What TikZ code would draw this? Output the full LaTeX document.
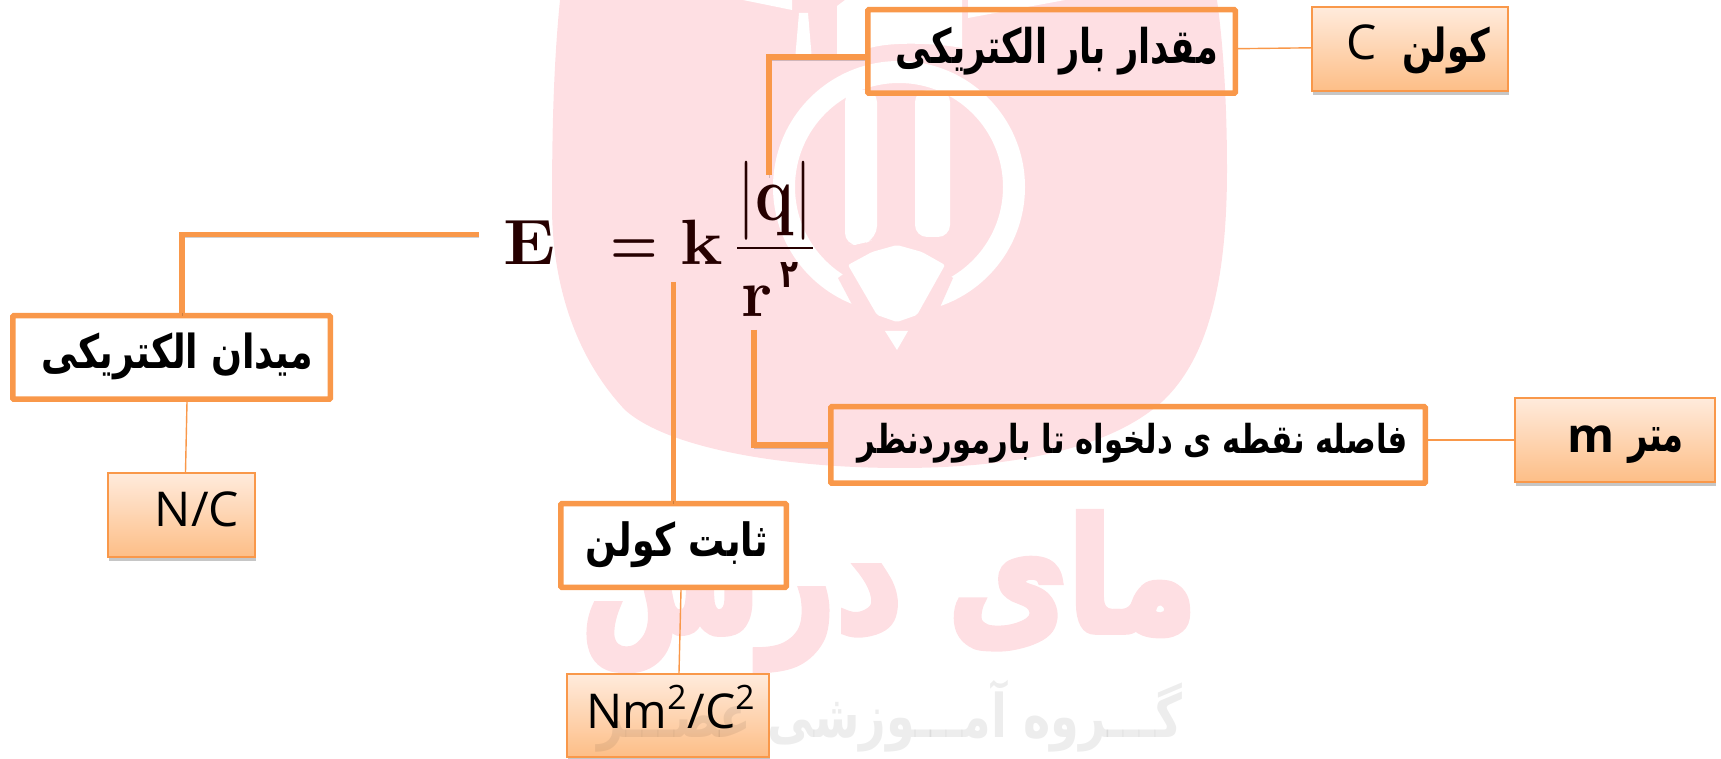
\documentclass[tikz,border=0pt]{standalone}
\usepackage{fontspec}
\usepackage{graphicx}
\usetikzlibrary{shadows}
\TeXXeTstate=1
\newfontfamily\fafont[Script=Arabic]{DejaVu Sans Bold}
\newfontfamily\faplain[Script=Arabic]{DejaVu Sans}
\newfontfamily\wmfont[Script=Arabic,FakeBold=4]{DejaVu Sans Bold}
\newfontfamily\lat{Open Sans}
\definecolor{org}{HTML}{F9984A}
\definecolor{wm}{HTML}{FEDFE3}
\definecolor{gtop}{HTML}{FFEBDC}
\definecolor{gbot}{HTML}{FDBE87}
\newcommand\fa[3]{\resizebox*{\dimexpr#1pt/2\relax}{\dimexpr#2pt/2\relax}{\fafont #3}}
\newcommand\fawm[3]{\resizebox*{\dimexpr#1pt/2\relax}{\dimexpr#2pt/2\relax}{\wmfont #3}}
\newcommand\eqsize[1]{\fontsize{#1}{#1}\selectfont}
\tikzset{
  x=0.5pt,y=-0.5pt,
  conn/.style={draw=org,line width=2.75pt,line join=miter,
    preaction={draw=black,opacity=.18,transform canvas={yshift=-1.5pt}}},
  thinconn/.style={draw=org,line width=0.7pt},
  namebox/.style={draw=org,line width=2.75pt,rounded corners=0.5pt,inner sep=0pt},
  unitbox/.style={draw=org,line width=1.2pt,top color=gtop,bottom color=gbot,inner sep=0pt,
    drop shadow={shadow xshift=0.5pt,shadow yshift=-2pt,opacity=.45}},
  lbl/.style={inner sep=0pt,text=black},
  eqn/.style={inner sep=0pt,anchor=base,text=black!85!red},
  unitlat/.style={inner sep=0pt,anchor=base,text=black,font=\lat\fontsize{24}{24}\selectfont}
}
\begin{document}
\begin{tikzpicture}
\useasboundingbox (0,0) rectangle (1721,759);
% watermark shape
\fill[wm] (560,0) .. controls (553,70) and (552,140) .. (552,210) .. controls (553,290) and (578,360) .. (625,410) .. controls (670,450) and (790,468) .. (900,468) .. controls (1010,468) and (1110,450) .. (1164,400) .. controls (1205,360) and (1227,290) .. (1227,170) .. controls (1227,110) and (1224,50) .. (1217,0) -- cycle;
% logo
\fill[white,even odd rule] (899,187) circle[radius=126] (899,187) circle[radius=104];
\fill[wm] (838,278) -- (857,314) -- (860,335) -- (935,335) -- (937,314) -- (953,278) -- (897,235) -- cycle;
\fill[white,rounded corners=6pt] (845,90) -- (877,90) -- (877,238) -- (861,245) -- (845,245) -- cycle;
\fill[white,rounded corners=6pt] (915,90) -- (950,90) -- (950,237) -- (915,237) -- cycle;
\fill[white,rounded corners=1pt] (897,245) -- (922,252) -- (945,265) -- (917,315) -- (897,322) -- (877,315) -- (848,265) -- (872,252) -- cycle;
\fill[white] (885,331) -- (908,331) -- (897,350) -- cycle;
\fill[white] (743,0) -- (792,0) -- (792,10) -- cycle;
\fill[white] (799,13) -- (808,13) -- (812,60) -- (795,60) -- cycle;
\fill[white] (837,60) -- (837,6) -- (845,0) -- (962,0) -- (962,48) .. controls (930,42) and (880,42) .. (865,50) -- (865,60) -- cycle;
\fill[white] (968,0) -- (1065,0) -- (968,18) -- cycle;
% watermark words
\node[lbl,text=wm] (wmword) at (889,591) {\fawm{616}{158}{\beginR مای درس\endR}};
% name boxes
\node[namebox,minimum width=183.75pt,minimum height=41.75pt] (boxq) at (1051.5,51.5) {};
\node[namebox,minimum width=158.75pt,minimum height=41.75pt] (boxE) at (171.5,357.5) {};
\node[namebox,fill=white,minimum width=112.75pt,minimum height=41.75pt] (boxk) at (673.5,545.5) {};
\node[namebox,minimum width=297.25pt,minimum height=38.25pt] (boxr) at (1128,445) {};
% unit boxes
\node[unitbox,minimum width=97.8pt,minimum height=41.8pt] (unitC) at (1410,49) {};
\node[unitbox,minimum width=99.8pt,minimum height=41.8pt] (unitm) at (1615,440) {};
\node[unitbox,minimum width=73.3pt,minimum height=41.8pt] (unitNC) at (181.5,515) {};
\node[unitbox,minimum width=100.8pt,minimum height=41.3pt] (unitNm) at (668,715.5) {};
% gray watermark line
\node[lbl,text=black,opacity=.07] (wmline) at (890,716) {\fa{584}{72}{\beginR گـــروه آمـــوزشی عصـــر\endR}};
% connector ends
\coordinate (qend) at (769,175);
\coordinate (eend) at (479,234.5);
\coordinate (kend) at (673.5,282);
\coordinate (rend) at (754,330);
\coordinate (barL) at (737,248);
\coordinate (barR) at (813,248);
% connectors
\draw[conn] ([yshift=-2.75pt]boxq.west) -| (qend);
\draw[conn] (eend) -| ([xshift=5.25pt]boxE.north);
\draw[conn] (kend) -- (boxk.north);
\draw[conn] (rend) |- (boxr.west);
\draw[thinconn] ([yshift=1.4pt]boxq.east) -- ([yshift=.6pt]unitC.west);
\draw[thinconn] ([yshift=2.5pt]boxr.east) -- (unitm.west);
\draw[thinconn] ([xshift=7.75pt]boxE.south) -- ([xshift=2pt]unitNC.north);
\draw[thinconn] ([xshift=3.75pt]boxk.south) -- ([xshift=5.5pt]unitNm.north);
% labels
\node[lbl] (tq) at (1057,51) {\fa{322}{48}{\beginR مقدار بار الکتریکی\endR}};
\node[lbl] (tE) at (177.5,356.5) {\fa{271}{47}{\beginR میدان الکتریکی\endR}};
\node[lbl] (tk) at (677,545) {\fa{182}{46}{\beginR ثابت کولن\endR}};
\node[lbl] (tr) at (1133,443) {\fa{550}{40}{\beginR فاصله نقطه ی دلخواه تا بارموردنظر\endR}};
\node[lbl] (tC) at (1446,50.5) {\fa{88}{47}{\beginR کولن\endR}};
\node[unitlat] (lC) at (1362,60) {C};
\node[lbl] (tm) at (1656,445) {\fa{56}{36}{\beginR متر\endR}};
\node[unitlat,font=\lat\bfseries\fontsize{24}{24}\selectfont] (lm) at (1591,452) {m};
\node[unitlat] (lNC) at (197,527) {N/C};
\node[unitlat] (lNm) at (671,728) {Nm\textsuperscript{2}/C\textsuperscript{2}};
% equation
\node[eqn] (eqE) at (529.5,265) {\scalebox{1.1}[1]{\eqsize{32}\bfseries E}};
\node[eqn] (eqeq) at (634,265) {\scalebox{.85}[1]{\eqsize{32}\bfseries =}};
\node[eqn] (eqk) at (701.5,265) {\scalebox{1.12}[1]{\eqsize{32}\bfseries k}};
\node[eqn] (eqq) at (775,221) {\scalebox{.82}[1]{\eqsize{39.5}|{\bfseries q}|}};
\draw[draw=black!85!red,line width=1pt] (barL) -- (barR);
\node[eqn] (eqr) at (757,317) {\eqsize{34}\bfseries r};
\node[lbl,text=black!85!red] (eq2) at (789,275) {\fa{18}{25}{\beginR ۲\endR}};
\end{tikzpicture}
\end{document}
